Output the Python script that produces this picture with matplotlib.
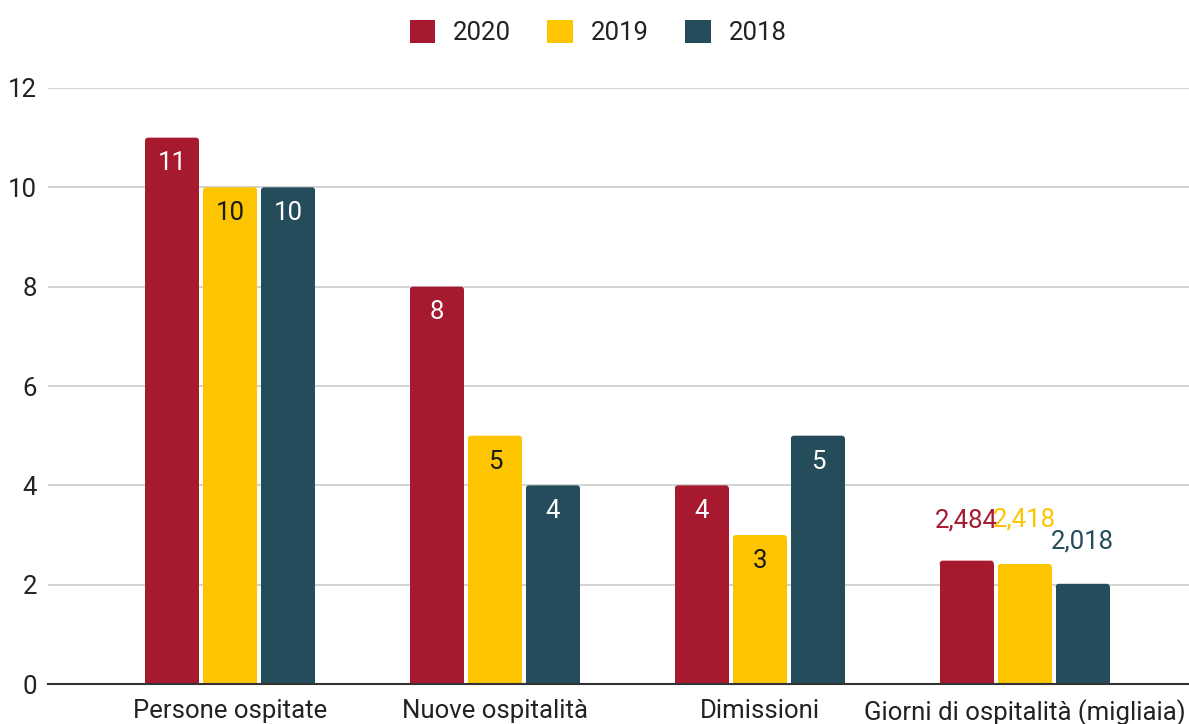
import matplotlib
matplotlib.use("Agg")
import matplotlib.pyplot as plt
import numpy as np
from matplotlib.patches import FancyBboxPatch

plt.rcParams['font.family'] = ['Roboto', 'DejaVu Sans']

categories = ["Persone ospitate", "Nuove ospitalità", "Dimissioni", "Giorni di ospitalità (migliaia)"]
series_names = ["2020", "2019", "2018"]
values_2020 = [11, 8, 4, 2.484]
values_2019 = [10, 5, 3, 2.418]
values_2018 = [10, 4, 5, 2.018]
label_2020 = ["11", "8", "4", "2,484"]
label_2019 = ["10", "5", "3", "2,418"]
label_2018 = ["10", "4", "5", "2,018"]
y_ticks = [0, 2, 4, 6, 8, 10, 12]

colors = ["#A6192E", "#FDC400", "#244C5A"]
inside_text = ["white", "#1a1a1a", "white"]
above_offset = [0.8, 0.89, 0.85]
FS = 18.5

fig = plt.figure(figsize=(11.89, 7.24), dpi=100)
ax = fig.add_axes([0.0404, 0.0552, 0.9596, 0.8233])

xlim = (-0.687, 3.62)
ylim = (0, 12)
ax.set_xlim(*xlim)
ax.set_ylim(*ylim)

# pixel scale of each axis, used to keep the corner rounding circular
ax_w_px = 0.9596 * 1189
ax_h_px = 0.8233 * 724
px_x = ax_w_px / (xlim[1] - xlim[0])
px_y = ax_h_px / (ylim[1] - ylim[0])
aspect = px_x / px_y
r_x = 3.0 / px_x
r_y = 3.0 / px_y

x = np.arange(len(categories))
width = 0.204
offset = 0.219
all_vals = [values_2020, values_2019, values_2018]
all_labels = [label_2020, label_2019, label_2018]

for i, (vals, labs) in enumerate(zip(all_vals, all_labels)):
    xs = x + (i - 1) * offset
    bottoms = [v - r_y for v in vals]
    bars = ax.bar(xs, bottoms, width, color=colors[i], label=series_names[i], zorder=3)
    for j, (b, v, lab) in enumerate(zip(bars, vals, labs)):
        x0 = b.get_x()
        top = FancyBboxPatch((x0, v - 2 * r_y), width, 2 * r_y,
                             boxstyle=f"round,pad=0,rounding_size={r_x}",
                             mutation_aspect=aspect, facecolor=colors[i],
                             edgecolor='none', zorder=3)
        ax.add_patch(top)
        cx = x0 + width / 2
        if j == 3:
            ax.text(cx, v + above_offset[i], lab, ha='center', va='center',
                    color=colors[i], fontsize=FS, zorder=4)
        else:
            ax.text(cx, v - 0.52, lab, ha='center', va='center',
                    color=inside_text[i], fontsize=FS, zorder=4)

ax.set_yticks(y_ticks)
ax.set_xticks(x)
ax.set_xticklabels(categories)
ax.tick_params(axis='both', length=0, labelsize=FS, colors='#222222')
ax.tick_params(axis='x', pad=11)
ax.tick_params(axis='y', pad=8)
ax.grid(axis='y', color='#cccccc', linewidth=1.2, zorder=0)
for s in ['top', 'right', 'left']:
    ax.spines[s].set_visible(False)
ax.spines['bottom'].set_color('#333333')
ax.spines['bottom'].set_linewidth(1.5)
ax.spines['bottom'].set_zorder(5)

leg = fig.legend(loc='upper center', bbox_to_anchor=(0.503, 1.005), ncol=3, frameon=False,
                 fontsize=FS, handlelength=1.0, handleheight=1.0, columnspacing=1.4,
                 handletextpad=0.7, labelcolor='#222222')

fig.savefig("out.png", dpi=100)
